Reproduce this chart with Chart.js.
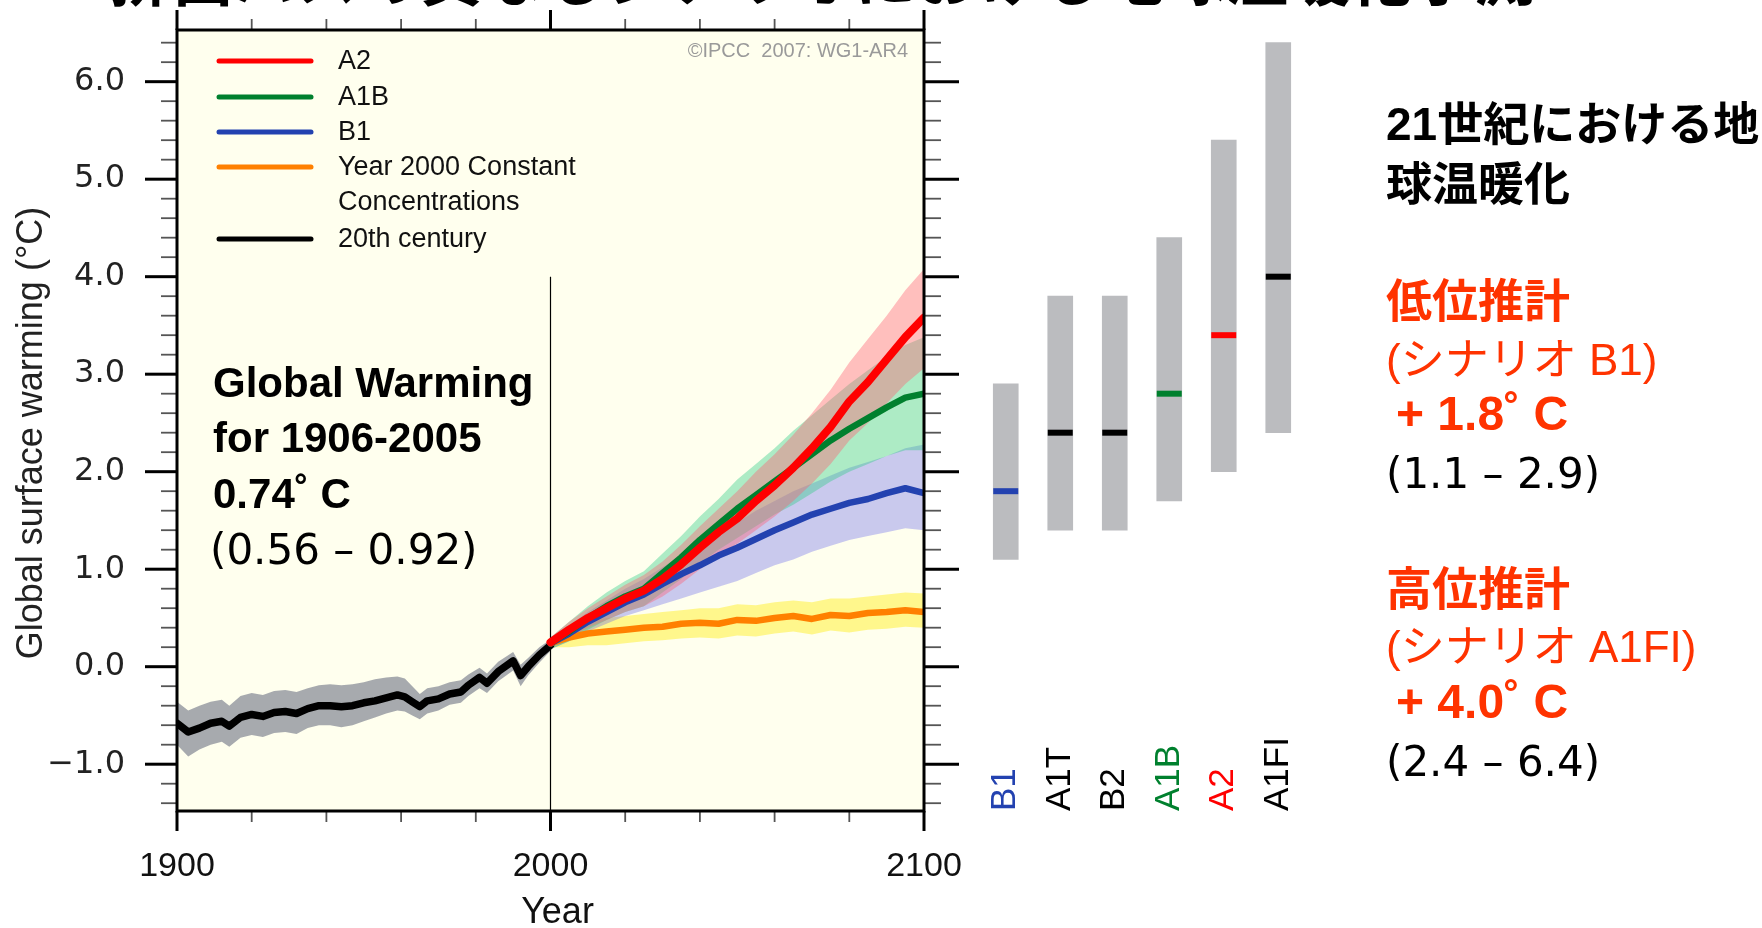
<!DOCTYPE html>
<html><head><meta charset="utf-8">
<script src="https://cdn.jsdelivr.net/npm/chart.js@4.4.1/dist/chart.umd.min.js"></script>
<style>
html,body{margin:0;padding:0;background:#fff;}
#wrap{position:relative;width:1762px;height:928px;overflow:hidden;background:#fff;}
canvas{position:absolute;top:0;}
#main{left:0;}
#bars{left:960px;}
</style></head><body>
<div id="wrap"><canvas id="main" width="1762" height="928"></canvas><canvas id="bars" width="364" height="928"></canvas></div>
<script>
// ---------- data ----------
const histYears = [1900,1903,1906,1909,1912,1914,1917,1920,1923,1926,1929,1932,1935,1938,1941,1944,1947,1950,1953,1956,1959,1961,1963,1965,1967,1970,1973,1976,1978,1981,1983,1986,1990,1992,1994,1997,2000];
const histMean  = [-0.58,-0.67,-0.63,-0.58,-0.56,-0.61,-0.52,-0.49,-0.51,-0.47,-0.46,-0.48,-0.43,-0.40,-0.40,-0.41,-0.40,-0.37,-0.35,-0.32,-0.29,-0.31,-0.36,-0.41,-0.35,-0.33,-0.28,-0.26,-0.19,-0.11,-0.17,-0.05,0.06,-0.09,0.00,0.12,0.22];
const histUpper = [-0.36,-0.45,-0.40,-0.36,-0.34,-0.40,-0.30,-0.27,-0.29,-0.25,-0.24,-0.26,-0.22,-0.19,-0.18,-0.19,-0.18,-0.16,-0.13,-0.11,-0.10,-0.12,-0.20,-0.28,-0.22,-0.20,-0.16,-0.14,-0.08,-0.01,-0.07,0.05,0.15,0.02,0.09,0.20,0.28];
const histLower = [-0.80,-0.92,-0.85,-0.80,-0.77,-0.82,-0.73,-0.70,-0.72,-0.68,-0.67,-0.69,-0.63,-0.60,-0.60,-0.62,-0.60,-0.56,-0.52,-0.48,-0.45,-0.46,-0.50,-0.54,-0.48,-0.45,-0.39,-0.37,-0.30,-0.22,-0.27,-0.15,-0.04,-0.20,-0.09,0.04,0.16];

const projYears = [2000,2005,2010,2015,2020,2025,2030,2035,2040,2045,2050,2055,2060,2065,2070,2075,2080,2085,2090,2095,2100];
const a2Mean   = [0.25,0.38,0.50,0.60,0.70,0.78,0.90,1.05,1.22,1.38,1.52,1.70,1.86,2.04,2.24,2.46,2.72,2.92,3.15,3.38,3.58];
const a2Upper  = [0.30,0.46,0.60,0.72,0.84,0.94,1.08,1.25,1.44,1.62,1.80,2.00,2.18,2.38,2.60,2.84,3.12,3.36,3.60,3.86,4.08];
const a2Lower  = [0.20,0.30,0.40,0.48,0.56,0.62,0.72,0.85,1.00,1.14,1.26,1.40,1.54,1.70,1.88,2.08,2.32,2.50,2.70,2.90,3.06];
const a1bMean  = [0.24,0.36,0.50,0.62,0.72,0.80,0.96,1.12,1.30,1.46,1.62,1.76,1.90,2.04,2.18,2.32,2.44,2.55,2.66,2.76,2.80];
const a1bUpper = [0.30,0.46,0.62,0.76,0.88,0.98,1.16,1.34,1.54,1.72,1.92,2.08,2.24,2.42,2.58,2.74,2.90,3.04,3.18,3.30,3.38];
const a1bLower = [0.18,0.26,0.38,0.48,0.56,0.62,0.76,0.90,1.06,1.20,1.32,1.44,1.56,1.66,1.78,1.90,2.00,2.08,2.16,2.22,2.22];
const b1Mean   = [0.24,0.34,0.46,0.56,0.66,0.74,0.85,0.95,1.04,1.14,1.22,1.31,1.40,1.48,1.56,1.62,1.68,1.72,1.78,1.83,1.78];
const b1Upper  = [0.30,0.42,0.56,0.68,0.80,0.90,1.02,1.14,1.26,1.38,1.48,1.60,1.70,1.80,1.88,1.96,2.04,2.10,2.16,2.24,2.28];
const b1Lower  = [0.18,0.26,0.36,0.44,0.52,0.58,0.64,0.70,0.76,0.82,0.88,0.96,1.04,1.10,1.18,1.24,1.30,1.34,1.38,1.42,1.40];
const constMean  = [0.24,0.30,0.34,0.36,0.38,0.40,0.41,0.44,0.45,0.44,0.48,0.47,0.50,0.52,0.49,0.53,0.52,0.55,0.56,0.58,0.56];
const constUpper = [0.28,0.40,0.46,0.50,0.52,0.54,0.56,0.58,0.60,0.60,0.64,0.63,0.66,0.68,0.66,0.70,0.70,0.72,0.74,0.76,0.75];
const constLower = [0.20,0.20,0.22,0.22,0.24,0.26,0.27,0.29,0.30,0.29,0.32,0.31,0.34,0.36,0.33,0.37,0.35,0.38,0.39,0.41,0.40];

const markerYear = 2000;
const markerTop = 4.0;

const scenarios    = ['B1','A1T','B2','A1B','A2','A1FI'];
const rangeLow     = [1.1,1.4,1.4,1.7,2.0,2.4];
const rangeHigh    = [2.9,3.8,3.8,4.4,5.4,6.4];
const bestEstimate = [1.8,2.4,2.4,2.8,3.4,4.0];

const legendLabels = ['A2','A1B','B1',['Year 2000 Constant','Concentrations'],'20th century'];
const xAxisTitle = 'Year';
const yAxisTitle = 'Global surface warming (°C)';

// ---------- styles ----------
const C = {red:'#FF0000', green:'#00802E', blue:'#2342B0', orange:'#FF8000', black:'#000000'};
const scenarioColors = [C.blue,'#000000','#000000',C.green,C.red,'#000000'];
const pts = (xs, ys) => xs.map((x,i)=>({x:x, y:ys[i]}));
const SANS = "'Liberation Sans', Arial, sans-serif";
const DEJA = "'DejaVu Sans', sans-serif";
const JP = "'Liberation Sans', 'Noto Sans CJK JP', sans-serif";

function band(upper, lower, xs, color, order){
  return [
    {data: pts(xs, upper), borderWidth:0, pointRadius:0, fill:'+1', backgroundColor:color, order:order},
    {data: pts(xs, lower), borderWidth:0, pointRadius:0, fill:false, order:order}
  ];
}
function mline(label, xs, ys, color, w, order){
  return {label: Array.isArray(label)?label.join(' '):label, data: pts(xs, ys), borderColor: color, backgroundColor: color,
          borderWidth: w, pointRadius:0, fill:false, order:order, borderJoinStyle:'round', borderCapStyle:'round'};
}

const datasets = [
  mline(legendLabels[0], projYears, a2Mean, C.red, 8, 1),
  mline(legendLabels[1], projYears, a1bMean, C.green, 6.5, 2),
  mline(legendLabels[2], projYears, b1Mean, C.blue, 6.5, 3),
  mline(legendLabels[3], projYears, constMean, C.orange, 6.5, 4),
  mline(legendLabels[4], histYears, histMean, C.black, 7.5, 5),
  ...band(a2Upper, a2Lower, projYears, 'rgba(255,95,115,0.40)', 16),
  ...band(a1bUpper, a1bLower, projYears, 'rgba(50,205,135,0.40)', 17),
  ...band(b1Upper, b1Lower, projYears, 'rgba(105,105,235,0.36)', 18),
  ...band(constUpper, constLower, projYears, 'rgba(255,240,60,0.55)', 19),
  ...band(histUpper, histLower, histYears, 'rgba(160,163,168,0.92)', 20),
  {data:[{x:markerYear,y:markerTop},{x:markerYear,y:-1.48}], borderColor:'#000', borderWidth:1.2, pointRadius:0, fill:false, order:15}
];

// ---------- plugins ----------
function seg(ctx,x1,y1,x2,y2){ctx.beginPath();ctx.moveTo(x1,y1);ctx.lineTo(x2,y2);ctx.stroke();}

const framePlugin = {
  id:'frame',
  beforeDraw(chart){
    const {ctx, chartArea:a} = chart;
    ctx.save(); ctx.fillStyle='#FFFFEE'; ctx.fillRect(a.left,a.top,a.right-a.left,a.bottom-a.top); ctx.restore();
  },
  afterDraw(chart){
    const {ctx, chartArea:a, scales:{x,y}} = chart;
    ctx.save();
    ctx.lineCap='butt';
    for(let k=Math.ceil(y.min*5); k<=Math.floor(y.max*5); k++){
      const py = y.getPixelForValue(k/5);
      const major = (k%5===0);
      ctx.strokeStyle = major?'#000':'#555'; ctx.lineWidth = major?3:1.8;
      seg(ctx, a.left-(major?32:16), py, a.left, py);
      seg(ctx, a.right, py, a.right+(major?35:17), py);
    }
    x.ticks.forEach(t=>{
      const px = x.getPixelForValue(t.value);
      const major = (t.value%100===0);
      ctx.strokeStyle = major?'#000':'#555'; ctx.lineWidth = major?3:1.8;
      seg(ctx, px, a.bottom, px, a.bottom+(major?20:11));
      seg(ctx, px, a.top, px, a.top-(major?20:11));
    });
    ctx.strokeStyle='#000'; ctx.lineWidth=3;
    ctx.strokeRect(a.left, a.top, a.right-a.left, a.bottom-a.top);
    // axis titles
    ctx.save();
    ctx.translate(32, 433); ctx.rotate(-Math.PI/2);
    ctx.font='36px '+SANS; ctx.fillStyle='#222'; ctx.textAlign='center'; ctx.textBaseline='middle';
    ctx.fillText(yAxisTitle, 0, 0);
    ctx.restore();
    ctx.font='36px '+SANS; ctx.fillStyle='#111'; ctx.textAlign='center'; ctx.textBaseline='middle';
    ctx.fillText(xAxisTitle, (a.left+a.right)/2+7, 913);
    ctx.restore();
  }
};

const legendPlugin = {
  id:'insideLegend',
  afterDatasetsDraw(chart){
    const {ctx, chartArea:a} = chart;
    const rows = [31, 67, 102, 137, 209];
    ctx.save();
    ctx.font = '27px '+SANS; ctx.fillStyle='#111'; ctx.textBaseline='middle'; ctx.textAlign='left';
    legendLabels.forEach((lab,i)=>{
      const ds = chart.data.datasets[i];
      const yy = a.top + rows[i];
      ctx.strokeStyle = ds.borderColor; ctx.lineWidth=5; ctx.lineCap='round';
      seg(ctx, a.left+42, yy, a.left+134, yy);
      const lines = Array.isArray(lab)?lab:[lab];
      lines.forEach((s,j)=> ctx.fillText(s, a.left+161, yy+1+j*35));
    });
    ctx.fillStyle='#9a9a9a'; ctx.font='20px '+SANS; ctx.textAlign='right';
    ctx.fillText('©IPCC  2007: WG1-AR4', a.right-16, a.top+21);
    ctx.restore();
  }
};

const textPlugin = {
  id:'texts',
  afterDraw(chart){
    const ctx = chart.ctx;
    ctx.save();
    ctx.textAlign='left';
    // cut-off page title
    ctx.fillStyle='#000'; ctx.textBaseline='alphabetic';
    ctx.font="bold 62px 'Noto Sans CJK JP', sans-serif";
    ctx.fillText('排出パスの異なるシナリオにおける地球温暖化予測', 110, 1);
    // annotation block inside the plot
    ctx.font='bold 42px '+SANS;
    ctx.fillText('Global Warming', 213, 397);
    ctx.fillText('for 1906-2005', 213, 452);
    ctx.fillText('0.74˚ C', 213, 508);
    ctx.font='42px '+DEJA;
    ctx.fillText('(0.56 – 0.92)', 210, 564);
    // right side text
    ctx.textBaseline='middle';
    const X = 1386, RED='#FF3300';
    ctx.fillStyle='#000'; ctx.font='bold 46px '+JP;
    ctx.fillText('21世紀における地', X, 127);
    ctx.fillText('球温暖化', X, 187);
    ctx.fillStyle=RED; ctx.font='bold 46px '+JP;
    ctx.fillText('低位推計', X, 304);
    ctx.font='44px '+JP;
    ctx.fillText('(シナリオ B1)', X, 363);
    ctx.font='bold 48px '+SANS;
    ctx.fillText('+ 1.8˚ C', X+10, 417);
    ctx.fillStyle='#000'; ctx.font='42px '+DEJA;
    ctx.fillText('(1.1 – 2.9)', X, 477);
    ctx.fillStyle=RED; ctx.font='bold 46px '+JP;
    ctx.fillText('高位推計', X, 592);
    ctx.font='44px '+JP;
    ctx.fillText('(シナリオ A1FI)', X, 650);
    ctx.font='bold 48px '+SANS;
    ctx.fillText('+ 4.0˚ C', X+10, 705);
    ctx.fillStyle='#000'; ctx.font='42px '+DEJA;
    ctx.fillText('(2.4 – 6.4)', X, 765);
    ctx.restore();
  }
};

new Chart(document.getElementById('main'), {
  type:'line',
  data:{datasets: datasets},
  options:{
    responsive:false, animation:false, devicePixelRatio:1,
    layout:{padding:{top:30, left:0, right:838, bottom:0}},
    elements:{line:{tension:0}},
    plugins:{legend:{display:false}, tooltip:{enabled:false}, filler:{propagate:false}},
    scales:{
      x:{type:'linear', min:1900, max:2100,
         grid:{display:false, drawTicks:true, tickLength:35}, border:{display:false},
         ticks:{stepSize:20, autoSkip:false, maxRotation:0, padding:0, color:'#111',
                font:{family:SANS, size:34}, callback:(v)=> (v%100===0 ? String(v) : '')},
         title:{display:false},
         afterFit:(s)=>{ s.height = 117; }},
      y:{min:-1.48, max:6.53,
         grid:{display:false, drawTicks:true, tickLength:50}, border:{display:false},
         ticks:{stepSize:1, includeBounds:false, autoSkip:false, padding:2, color:'#222',
                font:{family:DEJA, size:32},
                callback:(v)=> (v<0 ? '\u2212'+Math.abs(v).toFixed(1) : v.toFixed(1))},
         title:{display:false},
         afterFit:(s)=>{ s.width = 177; }}
    }
  },
  plugins:[framePlugin, legendPlugin, textPlugin]
});

const barLabelPlugin = {
  id:'barLabels',
  afterDraw(chart){
    const {ctx, chartArea:a, scales:{x}} = chart;
    ctx.save();
    ctx.font = '35px '+SANS; ctx.textAlign='left'; ctx.textBaseline='middle';
    chart.data.labels.forEach((lab,i)=>{
      const px = x.getPixelForTick(i);
      ctx.save(); ctx.translate(px, a.bottom); ctx.rotate(-Math.PI/2);
      ctx.fillStyle = scenarioColors[i];
      ctx.fillText(lab, 0, 0);
      ctx.restore();
    });
    ctx.restore();
  }
};

new Chart(document.getElementById('bars'), {
  type:'bar',
  data:{
    labels: scenarios,
    datasets:[
      {type:'line', data: bestEstimate, showLine:false, pointStyle:'line', pointRadius:12.5, pointHoverRadius:12.5,
       pointBorderWidth:6, pointBorderColor: scenarioColors, pointBackgroundColor: scenarioColors, order:1},
      {type:'bar', data: scenarios.map((s,i)=>[rangeLow[i], rangeHigh[i]]), backgroundColor:'#BBBCBF',
       barThickness:25, borderWidth:0, borderSkipped:false, order:2}
    ]
  },
  options:{
    responsive:false, animation:false, devicePixelRatio:1,
    layout:{padding:{top:30, bottom:117, left:0, right:0}},
    plugins:{legend:{display:false}, tooltip:{enabled:false}},
    scales:{ x:{display:false, offset:true}, y:{display:false, min:-1.48, max:6.53} }
  },
  plugins:[barLabelPlugin]
});
</script>
</body></html>
